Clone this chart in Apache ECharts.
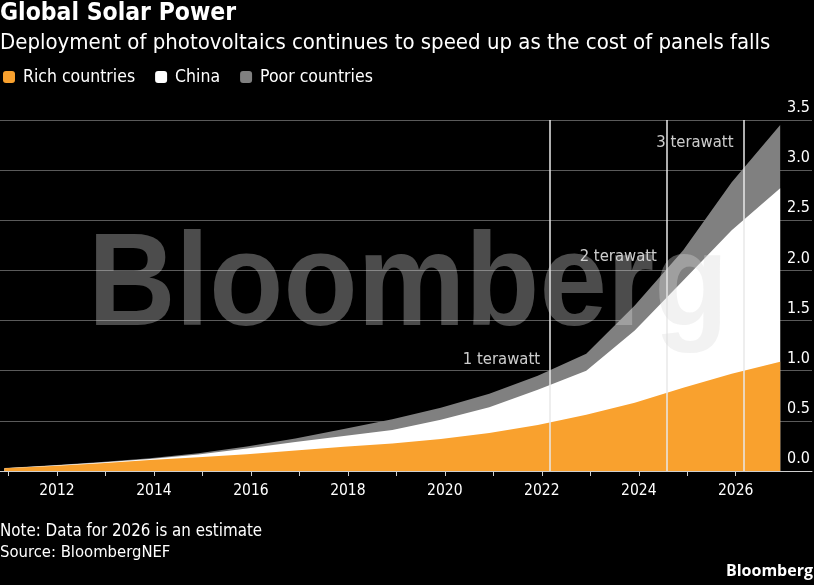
<!DOCTYPE html>
<html>
<head>
<meta charset="utf-8">
<script src="https://cdn.jsdelivr.net/npm/echarts@6/dist/echarts.min.js"></script>
<style>
html,body{margin:0;padding:0;background:#000;}
#chart{width:814px;height:585px;}
</style>
</head>
<body>
<div id="chart"></div>
<script>
// Data year (plotted at end of that year); 2026 is an estimate
const years = [2010,2011,2012,2013,2014,2015,2016,2017,2018,2019,2020,2021,2022,2023,2024,2025,2026];
// Cumulative installed PV, terawatts
const richCountries = [0.027,0.05,0.078,0.11,0.138,0.168,0.205,0.243,0.275,0.318,0.378,0.458,0.56,0.68,0.83,0.97,1.09];
const china        = [0.001,0.005,0.007,0.01,0.027,0.057,0.085,0.107,0.135,0.192,0.257,0.352,0.44,0.72,1.07,1.43,1.73];
const poorCountries= [0.002,0.002,0.005,0.007,0.012,0.02,0.035,0.07,0.105,0.12,0.135,0.14,0.17,0.25,0.30,0.48,0.63];
// Milestones: where cumulative capacity passes 1, 2, 3 TW
const milestoneX = [2022.17, 2024.58, 2026.16];
const milestoneLabelY = [1.107, 2.14, 3.27];
const milestoneText = ['1 terawatt','2 terawatt','3 terawatt'];
const xTickValues = [2011,2012,2013,2014,2015,2016,2017,2018,2019,2020,2021,2022,2023,2024,2025,2026];
const xLabelValues = [2012,2014,2016,2018,2020,2022,2024,2026];
const seriesNames = ['Rich countries','China','Poor countries'];

const FONT = "'DejaVu Sans Condensed', 'DejaVu Sans', sans-serif";
// stack manually: each band drawn from zero, upper bands underneath
const cum = (...arrs) => arrs[0].map((_, i) => arrs.reduce((s, a) => s + a[i], 0));
const toXY = arr => arr.map((v,i) => [years[i] + 11/12, +v.toFixed(4)]);

const chart = echarts.init(document.getElementById('chart'), null, {renderer:'canvas'});
const areaSeries = (name, data, color, z) => ({
  name, type:'line', data: toXY(data), symbol:'none', showSymbol:false,
  lineStyle:{width:0, color}, areaStyle:{color, opacity:1, origin:'start'}, itemStyle:{color}, z
});

chart.setOption({
  backgroundColor:'#000',
  animation:false,
  title:{
    text:'Global Solar Power',
    subtext:'Deployment of photovoltaics continues to speed up as the cost of panels falls',
    left:0, top:1, padding:0, itemGap:4,
    textStyle:{color:'#fff', fontFamily:FONT, fontWeight:'bold', fontSize:24.5, lineHeight:26},
    subtextStyle:{color:'#fff', fontFamily:FONT, fontSize:22, lineHeight:24}
  },
  legend:{
    data:seriesNames, left:3, top:68, padding:0, itemGap:20,
    itemWidth:12, itemHeight:12, icon:'roundRect',
    textStyle:{color:'#fff', fontFamily:FONT, fontSize:17.5, padding:[0,0,0,3]}
  },
  grid:{left:0, right:2, top:120, bottom:114, containLabel:false},
  xAxis:{
    type:'value', min:2010.825, max:2027.573,
    axisLine:{show:true, lineStyle:{color:'#cfcfcf', width:1}},
    axisTick:{show:true, customValues:xTickValues, length:5, lineStyle:{color:'#cfcfcf'}},
    axisLabel:{customValues:xLabelValues, color:'#fff', fontFamily:FONT, fontSize:15.5, margin:12,
      formatter: v => String(Math.round(v))},
    splitLine:{show:false}
  },
  yAxis:{
    type:'value', position:'right', min:0, max:3.5, interval:0.5,
    axisLine:{show:false}, axisTick:{show:false},
    splitLine:{show:true, lineStyle:{color:'#5a5a5a', width:1}},
    axisLabel:{inside:true, margin:2, color:'#fff', fontFamily:FONT, fontSize:16,
      verticalAlign:'bottom', lineHeight:18, padding:[0,0,3,0],
      formatter: v => v.toFixed(1)}
  },
  series:[
    areaSeries('Poor countries', cum(richCountries, china, poorCountries), '#808080', 2),
    areaSeries('China', cum(richCountries, china), '#ffffff', 3),
    areaSeries('Rich countries', richCountries, '#f9a12e', 4),
    {
      name:'milestones', type:'scatter', z:6, symbolSize:0, silent:true,
      data: milestoneX.map((x,i)=>[x, milestoneLabelY[i], milestoneText[i]]),
      label:{show:true, position:'left', distance:10, color:'#fff', fontFamily:FONT, fontSize:16.5,
        formatter: p => p.data[2]},
      markLine:{
        silent:true, symbol:'none', label:{show:false},
        lineStyle:{color:'#e8e8e8', width:1.5, type:'solid'},
        data: milestoneX.map(x=>({xAxis:x}))
      }
    }
  ],
  graphic:[
    {type:'text', z:100, silent:true, left:88, top:223, scaleX:0.926,
      style:{text:'Bloomberg', fill:'rgba(218,218,218,0.35)',
        font:"bold 131px 'Liberation Sans', Arial, sans-serif"}},
    {type:'text', left:0, top:523, style:{text:'Note: Data for 2026 is an estimate', fill:'#fff', font:"16.8px "+FONT}},
    {type:'text', left:0, top:544, style:{text:'Source: BloombergNEF', fill:'#fff', font:"16.5px "+FONT}},
    {type:'text', right:1, top:563, style:{text:'Bloomberg', fill:'#fff', font:"bold 16px 'Open Sans', sans-serif"}}
  ]
});
</script>
</body>
</html>
